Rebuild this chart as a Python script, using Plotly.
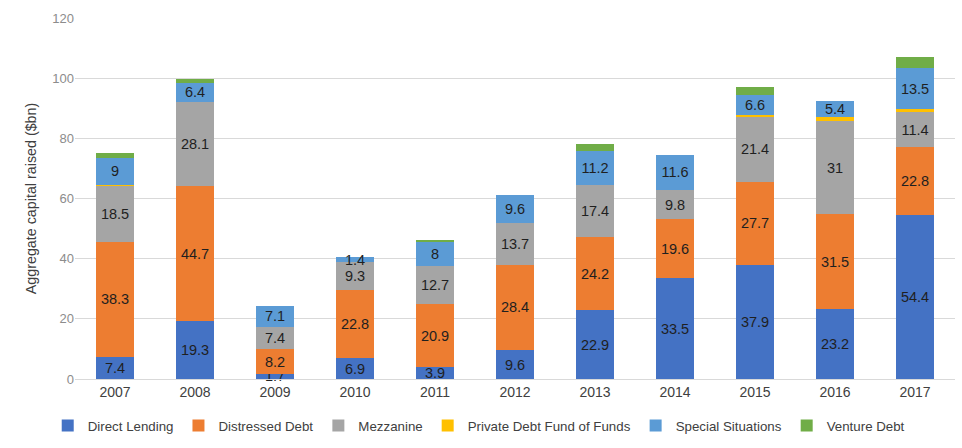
import plotly.graph_objects as go

years = ["2007", "2008", "2009", "2010", "2011", "2012", "2013", "2014", "2015", "2016", "2017"]
direct_lending = [7.4, 19.3, 1.7, 6.9, 3.9, 9.6, 22.9, 33.5, 37.9, 23.2, 54.4]
distressed_debt = [38.3, 44.7, 8.2, 22.8, 20.9, 28.4, 24.2, 19.6, 27.7, 31.5, 22.8]
mezzanine = [18.5, 28.1, 7.4, 9.3, 12.7, 13.7, 17.4, 9.8, 21.4, 31, 11.4]
fund_of_funds = [0.4, 0, 0, 0, 0, 0, 0, 0, 0.9, 1.4, 1.2]
special_situations = [9, 6.4, 7.1, 1.4, 8, 9.6, 11.2, 11.6, 6.6, 5.4, 13.5]
venture_debt = [1.6, 1.2, 0, 0, 0.8, 0, 2.4, 0, 2.4, 0, 3.8]

series = [
    ("Direct Lending", direct_lending, "#4472C4", True),
    ("Distressed Debt", distressed_debt, "#ED7D31", True),
    ("Mezzanine", mezzanine, "#A5A5A5", True),
    ("Private Debt Fund of Funds", fund_of_funds, "#FFC000", False),
    ("Special Situations", special_situations, "#5B9BD5", True),
    ("Venture Debt", venture_debt, "#70AD47", False),
]

FONT = "Liberation Sans, Arial, sans-serif"

fig = go.Figure()
for name, vals, color, labelled in series:
    fig.add_trace(go.Bar(
        x=years, y=vals, name=name,
        marker=dict(color=color, line=dict(width=0)),
        text=[f"{v:g}" for v in vals] if labelled else None,
        textposition="inside" if labelled else "none",
        insidetextanchor="middle",
        textfont=dict(size=14.5, color="#1f1f1f", family=FONT),
        cliponaxis=False,
    ))

fig.update_layout(
    barmode="stack",
    bargap=0.53,
    width=962, height=448,
    margin=dict(l=75, r=7, t=18, b=67),
    plot_bgcolor="white", paper_bgcolor="white",
    font=dict(family=FONT, color="#595959", size=12),
    uniformtext=dict(minsize=14.5, mode="show"),
    showlegend=True,
    legend=dict(orientation="h", x=-0.031, xanchor="left", y=-0.13, yanchor="middle",
                font=dict(size=13.3, color="#404040", family=FONT), traceorder="normal",
                itemwidth=30),
    yaxis=dict(range=[0, 120], dtick=20, showgrid=True, gridcolor="#d9d9d9", gridwidth=1,
               zeroline=False, showline=False,
               tickfont=dict(size=13, color="#8c8c8c"),
               title=dict(text="Aggregate capital raised ($bn)", font=dict(size=14.3, color="#404040"), standoff=12)),
    xaxis=dict(showline=True, linecolor="#d9d9d9", tickfont=dict(size=14, color="#404040"), ticks=""),
)

fig.write_html("out.html")
